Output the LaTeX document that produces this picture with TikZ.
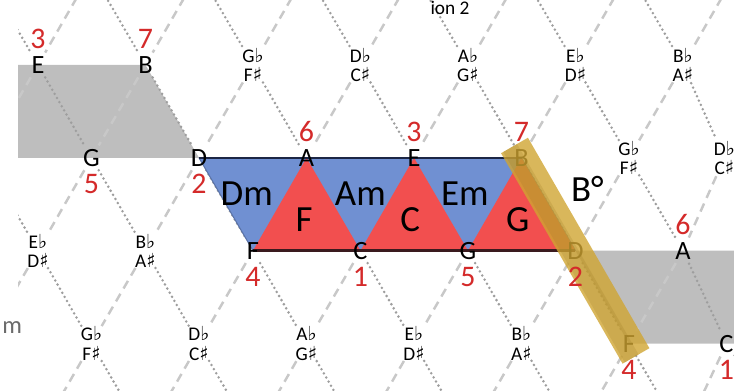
\documentclass[tikz,border=0pt]{standalone}
\usepackage{fontspec}
\setmainfont{Carlito}
\newfontfamily\musicfont{DejaVu Sans}
\usetikzlibrary{calc,positioning}
\definecolor{grid-gray}{HTML}{C8C8C8}
\definecolor{dot-gray}{HTML}{9E9E9E}
\definecolor{shade-gray}{HTML}{BEBEBE}
\definecolor{minor-blue}{HTML}{7090D2}
\definecolor{major-red}{HTML}{F24F4F}
\definecolor{degree-red}{HTML}{D42A2A}
\definecolor{edge-navy}{HTML}{1C2645}
\definecolor{edge-dark}{HTML}{3A1A1E}
\definecolor{bar-gold}{HTML}{D0A532}

\newcommand{\fl}{{\musicfont\char"266D}}
\newcommand{\sh}{{\musicfont\char"266F}}
\newcommand{\enh}[2]{{\fontsize{11}{11}\selectfont\shortstack{#1\fl\\#2\sh}}}

\pgfdeclarelayer{back}
\pgfdeclarelayer{fills}
\pgfdeclarelayer{front}
\pgfsetlayers{back,fills,main,front}

\begin{document}
\begin{tikzpicture}[
    note/.style={circle, inner sep=0pt, minimum size=0.56cm, font=\fontsize{15}{16}\selectfont},
    degree/.style={inner sep=0pt, text=degree-red, font=\fontsize{17}{18}\selectfont},
    chord/.style={inner sep=0pt, font=\fontsize{21}{22}\selectfont},
    fifth/.style={grid-gray, line width=1.4pt},
    major-third/.style={grid-gray, line width=1.4pt, dash pattern=on 5pt off 3.5pt},
    minor-third/.style={dot-gray, line width=1.6pt, line cap=round, dash pattern=on 0pt off 2.7pt},
    major-fill/.style={fill=major-red},
    minor-fill/.style={fill=minor-blue, draw=minor-blue!80!black, line width=0.6pt, line join=round},
    gold-bar/.style={fill=bar-gold, fill opacity=0.8, rotate=-60, minimum width=4.86cm, minimum height=0.62cm, inner sep=0pt}
]
    \useasboundingbox (0,0) rectangle (14.68,7.82);

    % lattice points (rows 0 and 5, columns 0 and 8 lie outside)
    \foreach \r in {0,...,5}
      \foreach \k in {0,...,8}{
        \pgfmathsetmacro{\xo}{mod(\r,2)==1 ? 0.76 : 1.83}
        \coordinate (n\r-\k) at ({\xo+2.15*(\k-1)}, {6.52-1.857*(\r-1)});
      }

    % notes
    \foreach \k/\t in {1/E, 2/B, 3/\enh GF, 4/\enh DC, 5/\enh AG, 6/\enh ED, 7/\enh BA}
      \node[note] (n1-\k) at (n1-\k) {\t};
    \foreach \k/\t in {1/G, 2/D, 3/A, 4/E, 5/B, 6/\enh GF}
      \node[note] (n2-\k) at (n2-\k) {\t};
    \node[note, xshift=-0.24cm] (n2-7) at (n2-7) {\enh DC};
    \foreach \k/\t in {1/\enh ED, 2/\enh BA, 3/F, 4/C, 5/G, 6/D, 7/A}
      \node[note] (n3-\k) at (n3-\k) {\t};
    \foreach \k/\t in {1/\enh GF, 2/\enh DC, 3/\enh AG, 4/\enh ED, 5/\enh BA, 6/F}
      \node[note] (n4-\k) at (n4-\k) {\t};
    \node[note, xshift=-0.2cm] (n4-7) at (n4-7) {C};

    \node[text=black!58, font=\fontsize{14}{16}\selectfont, anchor=base west, inner sep=0pt] (cut-m) at (0.04,1.14) {m};
    \node[font=\fontsize{11}{12}\selectfont, anchor=north, inner sep=0pt] (cut-title) at (9.0,7.8) {ion 2};

    \begin{pgfonlayer}{back}
      \coordinate (edge-l) at (0.36,0);
      \coordinate (edge-r) at (14.68,0);
      \fill[shade-gray] (n1-2.center) -- (n2-2.center) -- (n2-2.center -| edge-l) -- (n1-2.center -| edge-l) -- cycle;
      \fill[shade-gray] (n3-6.center) -- (n3-6.center -| edge-r) -- (n4-6.center -| edge-r) -- (n4-6.center) -- cycle;
      \begin{scope}
        \clip (edge-l) rectangle (14.68,7.82);
        % fifths
        \foreach \r in {1,...,4}
          \foreach \k [evaluate=\k as \kn using int(\k+1)] in {0,...,7}
            \draw[fifth] (n\r-\k) -- (n\r-\kn);
        % thirds
        \foreach \r [evaluate=\r as \rn using int(\r+1)] in {0,...,4}
          \foreach \k in {0,...,8}{
            \pgfmathtruncatemacro{\kr}{\k+1-mod(\r,2)}
            \pgfmathtruncatemacro{\kl}{\kr-1}
            \ifnum\kr<9 \draw[minor-third] (n\r-\k) -- (n\rn-\kr);\fi
            \ifnum\kl>-1 \draw[major-third] (n\r-\k) -- (n\rn-\kl);\fi
          }
      \end{scope}
    \end{pgfonlayer}

    \begin{pgfonlayer}{fills}
      \filldraw[minor-fill] (n2-2.center) -- (n2-5.center) -- (n3-6.center) -- (n3-3.center) -- cycle;
      \fill[major-fill] (n3-3.center) -- (n2-3.center) -- (n3-4.center) -- cycle;
      \fill[major-fill] (n3-4.center) -- (n2-4.center) -- (n3-5.center) -- cycle;
      \fill[major-fill] (n3-5.center) -- (n2-5.center) -- (n3-6.center) -- cycle;
      \draw[edge-navy, line width=1.5pt] (n2-2.center) -- (n2-5.center);
      \draw[edge-dark, line width=1.5pt] (n3-3.center) -- (n3-6.center);
    \end{pgfonlayer}

    \begin{pgfonlayer}{front}
      \node[gold-bar] (bar) at ($(n2-5)!0.5!(n4-6)$) {};
      \node[gold-bar, minimum height=0.32cm, fill=bar-gold!75!black, fill opacity=0.22] (bar-shade) at ($(bar.center)!0.1cm!(bar.south)$) {};

      \node[degree, above=1pt of n1-1] (d1-1) {3};
      \node[degree, above=1pt of n1-2] (d1-2) {7};
      \node[degree, below=1pt of n2-1] (d2-1) {5};
      \node[degree, below=1pt of n2-2] (d2-2) {2};
      \node[degree, above=1pt of n2-3] (d2-3) {6};
      \node[degree, above=1pt of n2-4] (d2-4) {3};
      \node[degree, above=1pt of n2-5] (d2-5) {7};
      \node[degree, below=1pt of n3-3] (d3-3) {4};
      \node[degree, below=1pt of n3-4] (d3-4) {1};
      \node[degree, below=1pt of n3-5] (d3-5) {5};
      \node[degree, below=1pt of n3-6] (d3-6) {2};
      \node[degree, above=1pt of n3-7] (d3-7) {6};
      \node[degree, below=1pt of n4-6] (d4-6) {4};
      \node[degree, below=1pt of n4-7] (d4-7) {1};

      \node[chord, xshift=-0.12cm, yshift=-0.1cm] (dm) at (barycentric cs:n2-2=1,n2-3=1,n3-3=1) {Dm};
      \node[chord, yshift=-0.1cm] (am) at (barycentric cs:n2-3=1,n2-4=1,n3-4=1) {Am};
      \node[chord, xshift=-0.06cm, yshift=-0.1cm] (em) at (barycentric cs:n2-4=1,n2-5=1,n3-5=1) {Em};
      \node[chord, xshift=-0.05cm] (f) at (barycentric cs:n3-3=1,n2-3=1,n3-4=1) {F};
      \node[chord, xshift=-0.08cm] (c) at (barycentric cs:n3-4=1,n2-4=1,n3-5=1) {C};
      \node[chord, xshift=-0.08cm] (g) at (barycentric cs:n3-5=1,n2-5=1,n3-6=1) {G};
      \node[chord, xshift=0.24cm] (bdim) at (barycentric cs:n2-5=1,n3-6=1,n2-6=1) {B°};
    \end{pgfonlayer}
\end{tikzpicture}
\end{document}
